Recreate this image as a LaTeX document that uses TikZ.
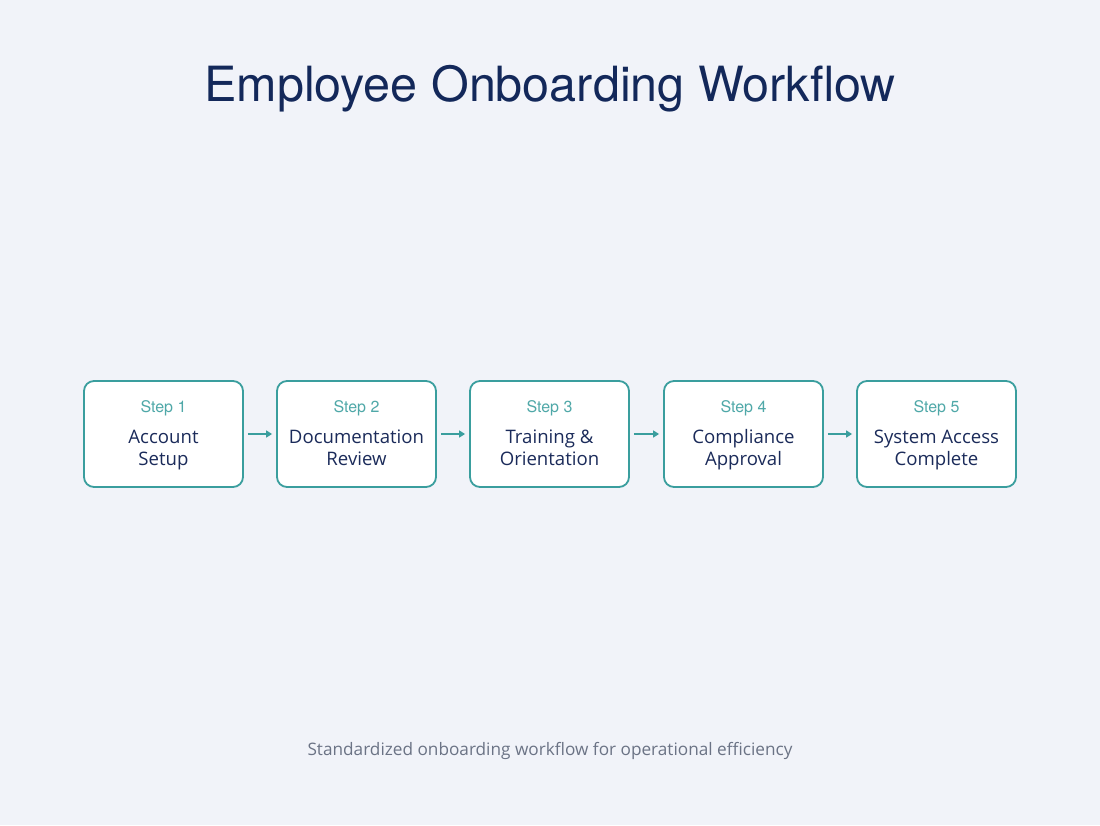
\documentclass[tikz,border=0pt]{standalone}
\usepackage{fontspec}
\setmainfont{Open Sans}
\newfontfamily\titlefont{TeX Gyre Heros}
\usetikzlibrary{arrows.meta}
\definecolor{bg}{HTML}{F1F3F9}
\definecolor{navy}{HTML}{13285A}
\definecolor{teal}{HTML}{3A9E9E}
\definecolor{steplbl}{HTML}{4FA8A8}
\definecolor{maintext}{HTML}{1B2B5A}
\definecolor{foot}{HTML}{6B7385}
\tikzset{
  stepbox/.style={draw=teal, line width=1.8pt, fill=white, rounded corners=10pt,
    minimum width=159pt, minimum height=106pt, inner sep=0pt},
  steplabel/.style={text=steplbl, font=\titlefont\fontsize{16}{18}\selectfont, anchor=center},
  steptext/.style={text=maintext, font=\fontsize{18.6}{21.5}\selectfont, align=center, anchor=north, inner sep=0pt},
  flow/.style={draw=teal, line width=1.8pt, -{Triangle[length=6pt,width=7pt]}}
}
\begin{document}
\begin{tikzpicture}[x=1pt,y=-1pt]
\fill[bg] (0,0) rectangle (1100,825);
\useasboundingbox (0,0) rectangle (1100,825);
\node[text=navy, font=\titlefont\fontsize{48.5}{56}\selectfont] (title) at (550,89) {Employee Onboarding Workflow};
\foreach \i/\x/\t in {1/163.5/{Account\strut\\Setup\strut},2/356.5/{Documentation\strut\\Review\strut},3/549.5/{Training \&\strut\\Orientation\strut},4/743.5/{Compliance\strut\\Approval\strut},5/936.5/{System Access\strut\\Complete\strut}}{
  \node[stepbox] (b\i) at (\x,434) {};
  \node[steplabel] (l\i) at (\x,408) {Step \i};
  \node[steptext] (t\i) at (\x,428.5) {\t};
}
\foreach \a/\b in {1/2,2/3,3/4,4/5}{
  \draw[flow] ([xshift=4pt]b\a.east) -- ([xshift=-4pt]b\b.west);
}
\node[text=foot, font=\fontsize{17.2}{20}\selectfont] (footer) at (550,751) {Standardized onboarding workflow for operational efficiency};
\end{tikzpicture}
\end{document}
